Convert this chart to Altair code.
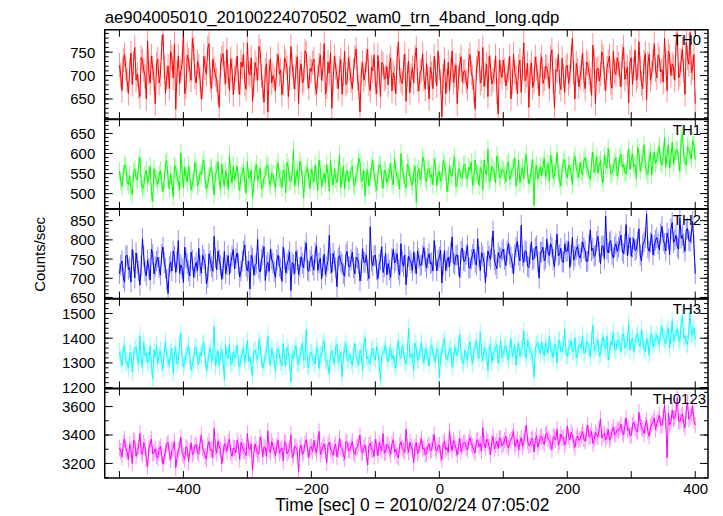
import altair as alt
import pandas as pd

FONT = "Liberation Sans"

# time bins (seconds relative to 2010/02/24 07:05:02); 2 s bins from -500 to 400
T_START = -500
T_STEP = 2

# values at even bins (t = -500, -496, ...) and odd bins (t = -498, -494, ...)
TH0_EVEN = [
    722, 668, 745, 690, 712, 681, 760, 703, 655, 731, 698, 774, 684, 716, 640,
    735, 702, 788, 662, 720, 751, 695, 628, 742, 710, 795, 676, 733, 690, 758,
    684, 720, 650, 741, 703, 768, 672, 715, 690, 632, 738, 706, 755, 668, 712,
    695, 742, 660, 718, 683, 770, 701, 645, 728, 690, 752, 676, 711, 622, 736,
    700, 668, 745, 712, 684, 730, 655, 762, 697, 718, 640, 725, 690, 748, 673,
    709, 735, 661, 722, 690, 768, 676, 705, 630, 741, 698, 715, 660, 752, 687,
    716, 672, 739, 694, 622, 727, 703, 756, 668, 710, 685, 743, 655, 724, 697,
    680, 738, 706, 661, 772, 690, 718, 645, 731, 700, 684, 759, 667, 712, 693,
    726, 650, 704, 741, 678, 715, 612, 735, 690, 668, 752, 701, 640, 722, 686,
    710, 671, 745, 696, 628, 731, 684, 760, 702, 655, 718, 690, 742, 618, 709,
    733, 678, 712, 650, 746, 695, 720, 664, 770, 701, 632, 727, 688, 715, 657,
    740, 693, 718, 672, 755, 630, 709, 686, 737, 664, 722, 698, 780, 650, 711,
    696, 748, 672, 725, 690, 765, 640, 716, 703, 741, 668, 730, 685, 752, 702,
    724, 676, 760, 705, 642, 738, 715, 690, 772, 683, 729, 648, 745, 706, 768,
    695, 735, 712, 780, 668, 741, 725, 690, 790, 702, 756, 660, 738, 792, 716,
    640,
]
TH0_ODD = [
    701, 733, 715, 662, 748, 727, 690, 676, 739, 712, 650, 705, 742, 693, 725,
    684, 760, 718, 697, 672, 739, 768, 706, 683, 726, 661, 744, 711, 779, 697,
    730, 692, 675, 716, 758, 689, 735, 702, 664, 721, 747, 683, 698, 736, 659,
    712, 686, 729, 745, 671, 705, 738, 680, 714, 762, 699, 643, 725, 707, 684,
    691, 722, 703, 659, 738, 716, 694, 722, 671, 740, 708, 684, 753, 697, 715,
    727, 682, 698, 744, 713, 660, 729, 749, 691, 717, 672, 734, 702, 681, 738,
    689, 711, 757, 676, 705, 690, 733, 682, 718, 744, 661, 706, 728, 692, 719,
    721, 667, 694, 735, 708, 683, 746, 702, 663, 717, 739, 690, 708, 746, 671,
    695, 718, 672, 709, 752, 688, 699, 661, 728, 713, 685, 722, 695, 740, 708,
    688, 732, 706, 667, 715, 752, 693, 677, 724, 741, 682, 708, 665, 733, 696,
    712, 695, 741, 686, 707, 661, 733, 715, 689, 726, 708, 674, 740, 697, 722,
    683, 720, 701, 739, 688, 712, 745, 670, 699, 718, 683, 739, 707, 726, 676,
    718, 690, 729, 706, 658, 731, 712, 688, 751, 694, 716, 742, 673, 709, 738,
    703, 741, 692, 718, 729, 681, 754, 698, 715, 672, 747, 725, 690, 731, 712,
    744, 708, 686, 729, 752, 700, 718, 767, 695, 733, 710, 771, 724, 706, 745,
]

TH1_EVEN = [
    556, 518, 572, 530, 545, 498, 561, 534, 590, 512, 547, 526, 568, 481, 540,
    523, 558, 505, 575, 536, 549, 492, 563, 528, 601, 515, 544, 570, 509, 537,
    562, 527, 548, 584, 511, 543, 566, 497, 555, 530, 574, 519, 541, 595, 526,
    535, 569, 508, 551, 527, 580, 541, 488, 557, 533, 563, 515, 546, 572, 520,
    548, 514, 576, 537, 559, 502, 564, 531, 610, 540, 521, 567, 489, 553, 538,
    561, 529, 545, 584, 517, 550, 572, 506, 543, 563, 527, 596, 538, 512, 557,
    534, 568, 519, 552, 577, 536, 495, 560, 541, 583, 526, 549, 570, 513, 555,
    540, 575, 522, 557, 533, 600, 548, 514, 566, 531, 552, 478, 562, 545, 580,
    529, 563, 547, 586, 519, 555, 538, 572, 504, 568, 543, 591, 527, 556, 540,
    573, 536, 559, 521, 584, 547, 565, 509, 551, 611, 538, 562, 527, 578, 544,
    558, 530, 579, 545, 566, 518, 583, 549, 536, 597, 524, 562, 471, 570, 551,
    544, 588, 557, 531, 574, 549, 602, 536, 563, 585, 540, 568, 522, 593, 555,
    578, 546, 590, 561, 535, 604, 569, 551, 583, 527, 572, 613, 548, 566, 590,
    561, 598, 574, 549, 612, 583, 566, 537, 601, 575, 622, 556, 589, 546, 604,
    585, 618, 571, 640, 596, 563, 628, 592, 610, 555, 648, 580, 617, 598, 632,
    585,
]
TH1_ODD = [
    531, 549, 566, 522, 507, 553, 540, 571, 526, 519, 558, 544, 503, 562, 535,
    547, 528, 534, 582, 512, 526, 570, 541, 509, 552, 566, 529, 543, 525, 578,
    519, 553, 571, 534, 523, 562, 531, 549, 580, 514, 538, 557, 510, 548, 569,
    552, 530, 545, 566, 501, 539, 559, 524, 573, 546, 512, 540, 568, 529, 551,
    527, 563, 541, 515, 550, 578, 532, 549, 520, 558, 581, 536, 547, 566, 512,
    545, 571, 508, 559, 537, 528, 547, 583, 521, 538, 556, 515, 568, 549, 530,
    561, 522, 548, 589, 530, 557, 543, 519, 566, 550, 508, 572, 537, 559, 528,
    553, 536, 588, 542, 512, 561, 527, 574, 543, 520, 568, 551, 534, 591, 539,
    560, 541, 522, 569, 548, 531, 583, 556, 529, 549, 575, 517, 562, 540, 571,
    541, 566, 578, 535, 552, 520, 559, 584, 546, 530, 568, 553, 594, 539, 561,
    547, 572, 535, 562, 589, 543, 527, 566, 580, 551, 539, 585, 557, 536, 567,
    569, 541, 575, 596, 538, 564, 553, 519, 577, 548, 571, 552, 580, 563, 541,
    556, 583, 569, 545, 578, 553, 592, 571, 540, 596, 563, 585, 552, 577, 544,
    590, 566, 553, 585, 560, 599, 572, 615, 556, 587, 568, 547, 603, 581, 575,
    603, 579, 597, 566, 622, 589, 575, 608, 581, 635, 597, 571, 609, 586, 621,
]

TH2_EVEN = [
    712, 745, 690, 760, 728, 775, 701, 738, 682, 803, 719, 748, 695, 762, 730,
    755, 708, 781, 726, 660, 742, 771, 715, 798, 735, 689, 753, 720, 768, 702,
    741, 778, 713, 750, 685, 764, 730, 809, 722, 748, 697, 770, 735, 710, 758,
    724, 766, 703, 745, 787, 719, 672, 752, 733, 801, 716, 760, 694, 741, 775,
    739, 702, 760, 725, 781, 714, 748, 668, 735, 770, 709, 756, 727, 792, 718,
    757, 721, 785, 740, 698, 763, 730, 812, 715, 746, 678, 759, 737, 705, 770,
    729, 768, 711, 751, 693, 777, 741, 720, 834, 733, 760, 699, 748, 715, 765,
    738, 702, 775, 746, 722, 790, 731, 683, 757, 740, 769, 712, 752, 735, 780,
    727, 764, 741, 798, 719, 755, 688, 772, 745, 730, 808, 736, 761, 702, 779,
    744, 785, 726, 762, 741, 803, 720, 758, 689, 771, 749, 823, 735, 767, 752,
    776, 733, 790, 755, 712, 781, 760, 838, 741, 769, 728, 795, 752, 784, 700,
    768, 745, 802, 759, 781, 730, 815, 762, 744, 790, 771, 728, 806, 757, 783,
    752, 795, 771, 744, 826, 778, 760, 809, 738, 785, 862, 766, 798, 753, 790,
    781, 812, 764, 840, 788, 757, 803, 776, 829, 745, 795, 868, 770, 814, 785,
    806, 774, 835, 790, 818, 762, 845, 800, 781, 858, 812, 770, 830, 795, 848,
    712,
]
TH2_ODD = [
    734, 701, 758, 723, 690, 745, 766, 719, 731, 757, 706, 726, 776, 711, 745,
    728, 762, 741, 697, 730, 719, 757, 744, 713, 726, 781, 738, 706, 747, 729,
    719, 733, 760, 738, 702, 745, 718, 753, 771, 733, 726, 712, 759, 740, 775,
    752, 737, 719, 771, 731, 744, 760, 708, 739, 725, 749, 782, 733, 718, 750,
    717, 748, 731, 692, 750, 737, 769, 741, 712, 748, 729, 738, 771, 722, 746,
    735, 766, 720, 752, 731, 709, 746, 738, 765, 727, 752, 743, 712, 761, 731,
    748, 727, 755, 738, 719, 742, 760, 699, 744, 758, 722, 737, 782, 731, 709,
    722, 751, 740, 764, 708, 743, 761, 729, 747, 720, 739, 771, 733, 760, 744,
    751, 738, 719, 760, 747, 773, 736, 720, 755, 768, 741, 759, 733, 770, 746,
    762, 728, 749, 776, 734, 755, 767, 741, 730, 758, 781, 747, 725, 756, 771,
    749, 771, 763, 738, 760, 796, 745, 758, 772, 731, 763, 748, 779, 742, 768,
    781, 752, 766, 790, 749, 772, 758, 778, 741, 769, 795, 760, 747, 775, 762,
    768, 779, 744, 787, 772, 757, 796, 768, 783, 750, 776, 793, 762, 781, 770,
    796, 771, 789, 758, 806, 781, 772, 795, 760, 787, 806, 779, 792, 761, 799,
    789, 816, 798, 771, 802, 829, 793, 812, 776, 804, 791, 826, 799, 817, 787,
]

TH3_EVEN = [
    1345, 1290, 1372, 1306, 1338, 1262, 1355, 1318, 1410, 1284, 1330, 1301, 1368, 1235, 1324,
    1297, 1352, 1276, 1389, 1315, 1340, 1258, 1362, 1308, 1421, 1285, 1333, 1370, 1271, 1312,
    1361, 1295, 1328, 1384, 1270, 1340, 1305, 1448, 1314, 1287, 1356, 1232, 1325, 1378, 1299,
    1318, 1372, 1283, 1340, 1301, 1392, 1327, 1246, 1352, 1310, 1366, 1279, 1335, 1410, 1290,
    1329, 1264, 1357, 1305, 1381, 1288, 1342, 1223, 1316, 1370, 1294, 1348, 1309, 1436, 1280,
    1341, 1302, 1365, 1277, 1330, 1390, 1312, 1255, 1349, 1296, 1375, 1321, 1243, 1356, 1308,
    1336, 1290, 1378, 1315, 1352, 1268, 1401, 1324, 1297, 1360, 1311, 1346, 1228, 1339, 1372,
    1305, 1362, 1331, 1279, 1390, 1318, 1350, 1296, 1442, 1325, 1270, 1357, 1314, 1383, 1301,
    1344, 1289, 1372, 1320, 1358, 1240, 1336, 1398, 1311, 1352, 1283, 1367, 1329, 1416, 1305,
    1351, 1312, 1385, 1296, 1362, 1337, 1425, 1308, 1348, 1270, 1376, 1332, 1360, 1297, 1391,
    1338, 1372, 1310, 1398, 1346, 1290, 1381, 1355, 1430, 1319, 1367, 1336, 1242, 1374, 1352,
    1386, 1329, 1362, 1408, 1341, 1375, 1300, 1392, 1350, 1437, 1326, 1368, 1345, 1402, 1331,
    1374, 1410, 1342, 1381, 1325, 1452, 1366, 1393, 1338, 1405, 1357, 1312, 1389, 1428, 1350,
    1391, 1346, 1420, 1372, 1460, 1388, 1342, 1405, 1379, 1436, 1357, 1398, 1330, 1418, 1385,
    1412, 1374, 1448, 1396, 1425, 1360, 1470, 1403, 1438, 1385, 1492, 1410, 1375, 1505, 1420,
    1395,
]
TH3_ODD = [
    1318, 1356, 1301, 1279, 1343, 1327, 1366, 1296, 1312, 1385, 1340, 1308, 1289, 1351, 1372,
    1330, 1301, 1345, 1322, 1288, 1359, 1336, 1295, 1378, 1318, 1302, 1347, 1327, 1292, 1365,
    1309, 1342, 1375, 1318, 1296, 1361, 1327, 1288, 1350, 1336, 1305, 1372, 1318, 1293, 1344,
    1337, 1298, 1321, 1363, 1342, 1307, 1285, 1351, 1329, 1394, 1316, 1300, 1344, 1322, 1359,
    1312, 1349, 1330, 1287, 1325, 1363, 1306, 1338, 1352, 1299, 1327, 1381, 1315, 1290, 1342,
    1322, 1295, 1347, 1333, 1371, 1309, 1288, 1338, 1320, 1362, 1301, 1345, 1330, 1379, 1316,
    1308, 1346, 1321, 1292, 1337, 1382, 1318, 1301, 1349, 1324, 1366, 1297, 1331, 1352, 1319,
    1340, 1317, 1298, 1356, 1329, 1371, 1308, 1345, 1322, 1339, 1380, 1311, 1349, 1325, 1360,
    1322, 1359, 1341, 1305, 1347, 1326, 1381, 1319, 1337, 1362, 1310, 1344, 1371, 1333, 1297,
    1335, 1368, 1322, 1349, 1390, 1318, 1341, 1362, 1327, 1355, 1304, 1346, 1374, 1336, 1320,
    1361, 1330, 1355, 1327, 1371, 1352, 1324, 1366, 1340, 1393, 1348, 1318, 1359, 1381, 1337,
    1349, 1381, 1340, 1357, 1322, 1368, 1391, 1344, 1371, 1334, 1360, 1389, 1352, 1320, 1373,
    1360, 1337, 1388, 1352, 1396, 1349, 1371, 1327, 1384, 1363, 1410, 1345, 1372, 1355, 1391,
    1373, 1409, 1361, 1389, 1352, 1401, 1378, 1419, 1366, 1392, 1345, 1382, 1410, 1367, 1397,
    1389, 1425, 1403, 1378, 1441, 1410, 1386, 1420, 1395, 1458, 1402, 1380, 1431, 1412, 1444,
]

TH0123_EVEN = [
    3310, 3245, 3372, 3280, 3335, 3198, 3356, 3290, 3412, 3262, 3318, 3175, 3340, 3268, 3301,
    3236, 3320, 3195, 3287, 3350, 3224, 3305, 3170, 3292, 3384, 3255, 3318, 3210, 3345, 3278,
    3332, 3264, 3398, 3289, 3230, 3355, 3301, 3446, 3272, 3316, 3195, 3340, 3285, 3372, 3250,
    3306, 3362, 3228, 3318, 3281, 3410, 3296, 3152, 3338, 3270, 3385, 3245, 3312, 3430, 3276,
    3321, 3255, 3364, 3294, 3218, 3343, 3286, 3402, 3260, 3315, 3140, 3330, 3279, 3368, 3240,
    3318, 3362, 3271, 3425, 3292, 3336, 3205, 3350, 3284, 3312, 3246, 3378, 3303, 3230, 3345,
    3290, 3355, 3262, 3318, 3398, 3275, 3331, 3188, 3342, 3296, 3370, 3254, 3315, 3410, 3280,
    3325, 3262, 3368, 3301, 3240, 3352, 3296, 3440, 3278, 3320, 3205, 3346, 3289, 3375, 3311,
    3270, 3338, 3296, 3402, 3285, 3330, 3226, 3355, 3312, 3430, 3290, 3342, 3258, 3378, 3320,
    3348, 3296, 3382, 3320, 3275, 3365, 3338, 3452, 3310, 3356, 3262, 3390, 3330, 3305, 3371,
    3336, 3392, 3310, 3366, 3428, 3340, 3295, 3381, 3352, 3470, 3325, 3368, 3280, 3395, 3347,
    3390, 3335, 3412, 3360, 3298, 3385, 3440, 3352, 3378, 3330, 3462, 3366, 3400, 3312, 3392,
    3372, 3425, 3356, 3470, 3392, 3340, 3418, 3385, 3512, 3402, 3366, 3440, 3380, 3455, 3408,
    3430, 3475, 3402, 3520, 3446, 3398, 3490, 3432, 3560, 3455, 3410, 3505, 3390, 3478, 3520,
    3482, 3540, 3465, 3610, 3240, 3470, 3575, 3520, 3662, 3495, 3548, 3450, 3630, 3528, 3605,
    3470,
]
TH0123_ODD = [
    3286, 3341, 3305, 3228, 3298, 3362, 3250, 3317, 3281, 3346, 3230, 3304, 3371, 3279, 3255,
    3302, 3263, 3248, 3331, 3270, 3296, 3352, 3241, 3318, 3275, 3228, 3305, 3290, 3262, 3327,
    3281, 3347, 3310, 3252, 3326, 3291, 3240, 3315, 3358, 3296, 3268, 3321, 3350, 3277, 3309,
    3274, 3322, 3348, 3290, 3255, 3309, 3338, 3270, 3301, 3265, 3342, 3318, 3249, 3297, 3355,
    3290, 3327, 3272, 3310, 3351, 3268, 3305, 3241, 3322, 3287, 3308, 3263, 3340, 3298, 3315,
    3284, 3306, 3349, 3262, 3318, 3287, 3330, 3302, 3258, 3337, 3295, 3315, 3270, 3356, 3292,
    3321, 3277, 3306, 3345, 3282, 3311, 3264, 3329, 3300, 3248, 3318, 3347, 3289, 3272, 3336,
    3297, 3340, 3281, 3258, 3326, 3309, 3276, 3318, 3350, 3292, 3317, 3270, 3335, 3301, 3262,
    3319, 3287, 3351, 3305, 3322, 3268, 3340, 3296, 3278, 3333, 3361, 3304, 3318, 3283, 3345,
    3310, 3352, 3339, 3294, 3361, 3318, 3287, 3340, 3372, 3315, 3348, 3301, 3356, 3381, 3322,
    3365, 3328, 3352, 3389, 3318, 3371, 3346, 3320, 3405, 3357, 3331, 3378, 3362, 3314, 3386,
    3355, 3401, 3371, 3342, 3389, 3365, 3328, 3407, 3381, 3356, 3392, 3418, 3347, 3376, 3361,
    3398, 3371, 3412, 3385, 3427, 3368, 3401, 3446, 3379, 3410, 3392, 3362, 3425, 3403, 3438,
    3445, 3418, 3461, 3432, 3397, 3470, 3450, 3420, 3488, 3441, 3468, 3425, 3456, 3491, 3437,
    3508, 3471, 3526, 3494, 3552, 3489, 3515, 3561, 3498, 3530, 3480, 3572, 3510, 3545, 3502,
]

# approximate 1-sigma error bar half-lengths
ERRORS = {"TH0": 26, "TH1": 23, "TH2": 27, "TH3": 36, "TH0123": 57}

NAMES = ["TH0", "TH1", "TH2", "TH3", "TH0123"]
SERIES = [
    (TH0_EVEN, TH0_ODD), (TH1_EVEN, TH1_ODD), (TH2_EVEN, TH2_ODD),
    (TH3_EVEN, TH3_ODD), (TH0123_EVEN, TH0123_ODD),
]
COLORS = ["#ff0000", "#00ff00", "#0000ff", "#00ffff", "#ff00ff"]
Y_DOMAINS = [[607, 798], [462, 685], [647, 880], [1197, 1559], [3097, 3726]]
Y_MAJOR = [
    [650, 700, 750],
    [500, 550, 600, 650],
    [650, 700, 750, 800, 850],
    [1200, 1300, 1400, 1500],
    [3200, 3400, 3600],
]
Y_MINOR = [
    list(range(610, 800, 10)),
    list(range(470, 690, 10)),
    list(range(650, 880, 10)),
    list(range(1200, 1560, 20)),
    list(range(3100, 3730, 100)),
]
LABEL_X = [598, 598, 598, 598, 603]

X_DOMAIN = [-523, 420]
X_TICKS = list(range(-500, 401, 100))
X_LABELS = [-400, -200, 0, 200, 400]

TITLE = "ae904005010_20100224070502_wam0_trn_4band_long.qdp"
X_TITLE = "Time [sec] 0 = 2010/02/24 07:05:02"
Y_TITLE = "Counts/sec"

W = 605
H = 89.7


def merge(even, odd):
    out = []
    for k, v in enumerate(even):
        out.append(v)
        if k < len(odd):
            out.append(odd[k])
    return out


panels = []
for i, name in enumerate(NAMES):
    vals = merge(*SERIES[i])
    err = ERRORS[name]
    t = [T_START + k * T_STEP for k in range(len(vals))]
    df = pd.DataFrame({"t": t, "v": vals})
    df["lo"] = df["v"] - err
    df["hi"] = df["v"] + err

    last = i == len(NAMES) - 1
    if last:
        xaxis = alt.Axis(values=X_LABELS, ticks=False, domain=False, grid=False, format="d",
                         labelPadding=3, title=X_TITLE, titlePadding=1, titleFontSize=17.5,
                         titleX=308)
    else:
        xaxis = None
    xs = alt.Scale(domain=X_DOMAIN, nice=False, zero=False)
    ys = alt.Scale(domain=Y_DOMAINS[i], nice=False, zero=False)
    yaxis = alt.Axis(values=Y_MAJOR[i], ticks=False, domain=False, grid=False, format="d",
                     labelPadding=10, title=Y_TITLE if i == 2 else "",
                     titlePadding=22)

    def X(field):
        return alt.X(field, type="quantitative", scale=xs, axis=xaxis)

    def Y(field):
        return alt.Y(field, type="quantitative", scale=ys, axis=yaxis)

    errbars = alt.Chart(df).mark_rule(color=COLORS[i], opacity=0.45, strokeWidth=1, clip=True).encode(
        x=X("t"), y=Y("lo"), y2="hi"
    )
    line = alt.Chart(df).mark_line(color=COLORS[i], strokeWidth=1, clip=True).encode(
        x=X("t"), y=Y("v")
    )

    dmaj = pd.DataFrame({"v": Y_MAJOR[i]})
    dmin = pd.DataFrame({"v": Y_MINOR[i]})
    dx = pd.DataFrame({"t": X_TICKS})
    rule = dict(color="black", strokeWidth=1)
    lmaj = alt.Chart(dmaj).mark_rule(**rule).encode(y=Y("v"), x=alt.value(0), x2=alt.value(8))
    rmaj = alt.Chart(dmaj).mark_rule(**rule).encode(y=Y("v"), x=alt.value(W - 8), x2=alt.value(W))
    lmin = alt.Chart(dmin).mark_rule(**rule).encode(y=Y("v"), x=alt.value(0), x2=alt.value(4))
    rmin = alt.Chart(dmin).mark_rule(**rule).encode(y=Y("v"), x=alt.value(W - 4), x2=alt.value(W))
    top = alt.Chart(dx).mark_rule(**rule).encode(x=X("t"), y=alt.value(0), y2=alt.value(7))
    bot = alt.Chart(dx).mark_rule(**rule).encode(x=X("t"), y=alt.value(H - 7), y2=alt.value(H))

    lab = alt.Chart(pd.DataFrame({"name": [name]})).mark_text(
        align="right", baseline="alphabetic", font=FONT, fontSize=15, color="black"
    ).encode(text="name:N", x=alt.value(LABEL_X[i]), y=alt.value(15.5))

    layer = alt.layer(errbars, line, lmaj, rmaj, lmin, rmin, top, bot, lab).properties(width=W, height=H)
    if i == 0:
        layer = layer.properties(title=alt.TitleParams(
            TITLE, anchor="start", frame="group", font=FONT, fontSize=16.8,
            fontWeight="normal", color="black", offset=2))
    panels.append(layer)

chart = alt.vconcat(*panels, spacing=0, bounds="flush").properties(
    padding={"left": 24, "top": 0, "right": 5, "bottom": 0},
    background="white",
).configure_view(
    stroke="black", strokeWidth=1.5
).configure_axis(
    labelFont=FONT, labelFontSize=15, labelColor="black",
    titleFont=FONT, titleFontSize=15, titleColor="black", titleFontWeight="normal"
)

chart.save("out.html", embed_options={"renderer": "svg", "actions": False})
